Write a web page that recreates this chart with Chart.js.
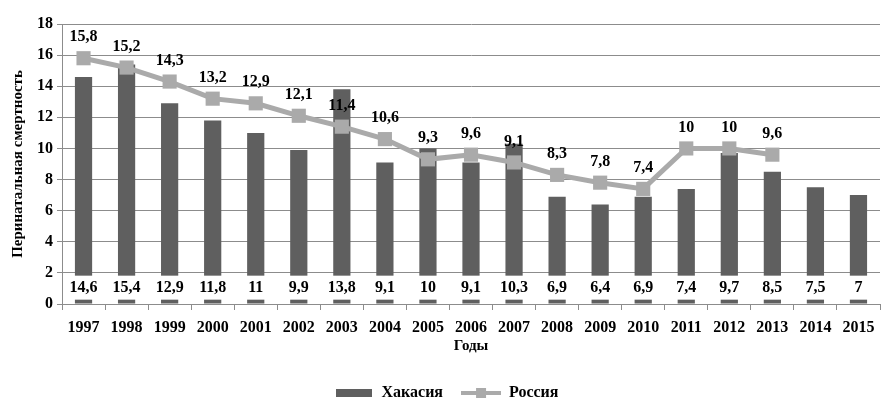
<!DOCTYPE html>
<html lang="ru">
<head>
<meta charset="UTF-8">
<title>Перинатальная смертность</title>
<script src="https://cdn.jsdelivr.net/npm/chart.js@4"></script>
<style>
  html, body { margin: 0; padding: 0; background: #fff; }
  #wrap { width: 892px; height: 411px; }
</style>
</head>
<body>
<div id="wrap"><canvas id="grafico" width="892" height="411"></canvas></div>
<script>
  const anios = ['1997','1998','1999','2000','2001','2002','2003','2004','2005','2006',
                 '2007','2008','2009','2010','2011','2012','2013','2014','2015'];
  const jakasia = [14.6, 15.4, 12.9, 11.8, 11, 9.9, 13.8, 9.1, 10, 9.1,
                   10.3, 6.9, 6.4, 6.9, 7.4, 9.7, 8.5, 7.5, 7];
  const rusia = [15.8, 15.2, 14.3, 13.2, 12.9, 12.1, 11.4, 10.6, 9.3, 9.6,
                 9.1, 8.3, 7.8, 7.4, 10, 10, 9.6, null, null];
  const marcasY = [0, 2, 4, 6, 8, 10, 12, 14, 16, 18];

  const colorBarra = '#5f5f5f';
  const colorLinea = '#aaaaaa';
  const fuente = 'Liberation Serif';

  // iconos de la leyenda
  function iconoBarra() {
    const c = document.createElement('canvas');
    c.width = 36; c.height = 8;
    const g = c.getContext('2d');
    g.fillStyle = colorBarra;
    g.fillRect(0, 0, 36, 8);
    return c;
  }
  function iconoLinea() {
    const c = document.createElement('canvas');
    c.width = 40; c.height = 12;
    const g = c.getContext('2d');
    g.strokeStyle = colorLinea;
    g.lineWidth = 4;
    g.beginPath(); g.moveTo(0, 6); g.lineTo(40, 6); g.stroke();
    g.fillStyle = colorLinea;
    g.fillRect(15, 1, 10, 10);
    return c;
  }

  const coma = v => String(v).replace('.', ',');

  // etiquetas de valores
  const etiquetas = {
    id: 'etiquetas',
    afterLayout(chart) {
      // leyenda un poco a la derecha
      chart.legend.left += 6;
      chart.legend.right += 6;
    },
    afterDatasetsDraw(chart) {
      const ctx = chart.ctx;
      const y = chart.scales.y;
      ctx.save();
      ctx.font = 'bold 16px "' + fuente + '"';
      ctx.textAlign = 'center';
      ctx.textBaseline = 'middle';
      // Хакасия: recuadro blanco abajo
      chart.getDatasetMeta(0).data.forEach((bar, i) => {
        const yc = y.getPixelForValue(1.05);
        ctx.fillStyle = '#fff';
        ctx.fillRect(bar.x - 20, yc - 12, 40, 24);
        ctx.fillStyle = '#000';
        ctx.fillText(coma(jakasia[i]), bar.x, yc);
      });
      // Россия: encima del punто
      chart.getDatasetMeta(1).data.forEach((pt, i) => {
        if (rusia[i] == null) return;
        ctx.fillStyle = '#000';
        ctx.fillText(coma(rusia[i]), pt.x, pt.y - 21);
      });
      ctx.restore();
    }
  };

  const ctx = document.getElementById('grafico').getContext('2d');
  const grafico = new Chart(ctx, {
    type: 'bar',
    data: {
      labels: anios,
      datasets: [
        {
          label: 'Хакасия',
          data: jakasia,
          backgroundColor: colorBarra,
          barPercentage: 0.4,
          categoryPercentage: 1,
          order: 2
        },
        {
          type: 'line',
          label: 'Россия',
          data: rusia,
          borderColor: colorLinea,
          backgroundColor: colorLinea,
          borderWidth: 5,
          pointStyle: 'rect',
          pointRadius: 10,
          pointBorderWidth: 0,
          spanGaps: false,
          order: 1
        }
      ]
    },
    options: {
      responsive: false,
      animation: false,
      layout: { padding: { top: 24, right: 12, left: 0, bottom: 0 } },
      plugins: {
        tooltip: { enabled: false },
        legend: {
          position: 'bottom',
          labels: {
            usePointStyle: true,
            pointStyleWidth: 40,
            color: '#000',
            font: { family: fuente, size: 16, weight: 'bold' },
            padding: 10,
            generateLabels: chart => [
              { text: 'Хакасия  ', pointStyle: iconoBarra(), datasetIndex: 0, fontColor: '#000' },
              { text: 'Россия', pointStyle: iconoLinea(), datasetIndex: 1, fontColor: '#000' }
            ]
          }
        }
      },
      scales: {
        x: {
          afterFit: s => { s.height = 71; },
          grid: { display: true, offset: true, drawOnChartArea: false, tickLength: 6, color: '#8c8c8c' },
          border: { color: '#8c8c8c' },
          ticks: { color: '#000', font: { family: fuente, size: 16, weight: 'bold' }, maxRotation: 0, padding: 8 },
          title: { display: true, text: 'Годы', color: '#000', font: { family: fuente, size: 15, weight: 'bold' }, padding: { top: 4, bottom: 20 } }
        },
        y: {
          min: 0,
          max: 18,
          afterBuildTicks: s => { s.ticks = marcasY.map(v => ({ value: v })); },
          afterFit: s => { s.width = 62; },
          grid: { color: '#8c8c8c', tickLength: 5 },
          border: { color: '#8c8c8c' },
          ticks: { color: '#000', font: { family: fuente, size: 16, weight: 'bold' }, padding: 4 },
          title: { display: true, text: 'Перинатальная смертность', color: '#000', font: { family: fuente, size: 15, weight: 'bold' }, padding: { top: 9, bottom: 0 } }
        }
      }
    },
    plugins: [etiquetas]
  });
</script>
</body>
</html>
